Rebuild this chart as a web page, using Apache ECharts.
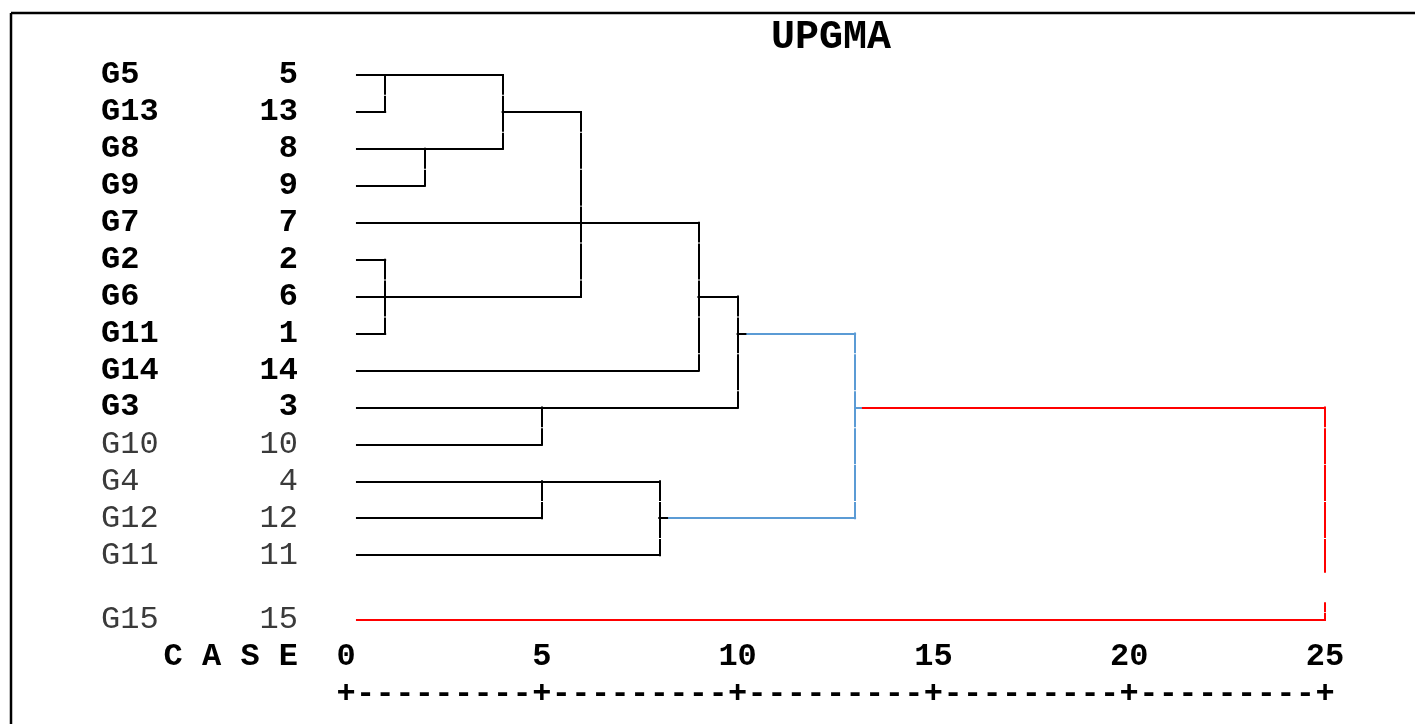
<!DOCTYPE html>
<html>
<head>
<meta charset="utf-8">
<script src="https://cdn.jsdelivr.net/npm/echarts@6/dist/echarts.min.js"></script>
<style>
html,body{margin:0;padding:0;background:#fff;}
#chart{width:1415px;height:724px;}
</style>
</head>
<body>
<div id="chart"></div>
<script>
// ---- data ----
const leafNames   = ['G5','G13','G8','G9','G7','G2','G6','G11','G14','G3','G10','G4','G12','G11','G15'];
const leafNumbers = ['5','13','8','9','7','2','6','1','14','3','10','4','12','11','15'];
const leafRows    = [0,1,2,3,4,5,6,7,8,9,10,11,12,13,14.75];
const leafBold    = [true,true,true,true,true,true,true,true,true,true,false,false,false,false,false];
const scaleTicks  = [0,5,10,15,20,25];
const caseLabel   = 'C A S E';
const titleText   = 'UPGMA';

// horizontal branches: [fromDistance, toDistance, row]
const blackH = [
  [0.28,4,0],[0.28,1,1],[4,6,1],[0.28,4,2],[0.28,2,3],[0.28,9,4],
  [0.28,1,5],[0.28,6,6],[9,10,6],[0.28,1,7],[10,10.25,7],[0.28,9,8],
  [0.28,10,9],[0.28,5,10],[0.28,8,11],[0.28,5,12],[8,8.25,12],[0.28,8,13]
];
// vertical joins: [distance, fromRow, toRow]
const blackV = [[1,0,1],[2,2,3],[4,0,2],[1,5,7],[6,1,6],[9,4,8],[10,6,9],[5,9,10],[5,11,12],[8,11,13]];
const blueH  = [[10.25,13,7],[8.25,13,12],[13,13.2,9]];
const blueV  = [[13,7,12]];
const redH   = [[13.2,25,9],[0.28,25,14.75]];
const redV   = [[25,9,13.45],[25,14.3,14.75]];

// ---- build line pieces ----
const GAP = 0.04;
function hPieces(arr){ return arr.map(h => ({coords:[[h[0],h[2]],[h[1],h[2]]]})); }
function vPieces(arr){
  const out = [];
  arr.forEach(v => {
    let start = v[1];
    for (let r = Math.floor(v[1]); r < v[2]; r++) {
      const g = r + 0.55;
      if (g > v[1] && g < v[2]) {
        out.push({coords:[[v[0],start],[v[0],g-GAP]]});
        start = g + GAP;
      }
    }
    out.push({coords:[[v[0],start],[v[0],v[2]]]});
  });
  return out;
}
function linesSeries(data, color){
  return {
    type:'lines', coordinateSystem:'cartesian2d', xAxisIndex:0, yAxisIndex:0,
    polyline:false, silent:true, animation:false,
    lineStyle:{color:color, width:2, opacity:1, cap:'square'},
    data:data
  };
}

const FONT = 'Liberation Mono';
const chart = echarts.init(document.getElementById('chart'));
chart.setOption({
  animation:false,
  backgroundColor:'#fff',
  title:{
    text:titleText, left:766, top:13,
    textStyle:{fontFamily:FONT, fontWeight:'bold', fontSize:40, color:'#000'}
  },
  grid:{left:346, right:90, top:75, bottom:95, containLabel:false, outerBoundsMode:'none'},
  xAxis:[
    {
      type:'value', min:0, max:25, interval:5, position:'bottom',
      axisLine:{show:false, onZero:false}, axisTick:{show:false}, splitLine:{show:false},
      axisLabel:{
        fontFamily:FONT, fontWeight:'bold', fontSize:32, color:'#000',
        margin:28, verticalAlign:'middle', showMinLabel:true, showMaxLabel:true
      }
    },
    {
      type:'value', min:0, max:25, interval:0.5, position:'bottom',
      axisLine:{show:false, onZero:false}, axisTick:{show:false}, splitLine:{show:false},
      axisLabel:{
        fontFamily:FONT, fontWeight:'bold', fontSize:32, color:'#000',
        margin:65, verticalAlign:'middle', showMinLabel:true, showMaxLabel:true,
        formatter:v => (Math.abs(v % 5) < 1e-6 ? '+' : '-')
      }
    }
  ],
  yAxis:[
    {
      type:'value', inverse:true, min:0, max:15, position:'left',
      axisLine:{show:false, onZero:false}, axisTick:{show:false}, splitLine:{show:false},
      axisLabel:{
        customValues:leafRows, align:'left', margin:245,
        formatter:v => { const i = leafRows.indexOf(v); return '{' + (leafBold[i]?'b':'n') + '|' + leafNames[i] + '}'; },
        rich:{
          b:{fontFamily:FONT, fontWeight:'bold', fontSize:32, color:'#000'},
          n:{fontFamily:FONT, fontWeight:'normal', fontSize:32, color:'#3a3a3a'}
        }
      }
    },
    {
      type:'value', inverse:true, min:0, max:15, position:'left',
      axisLine:{show:false, onZero:false}, axisTick:{show:false}, splitLine:{show:false},
      axisLabel:{
        customValues:leafRows, align:'right', margin:48,
        formatter:v => { const i = leafRows.indexOf(v); return '{' + (leafBold[i]?'b':'n') + '|' + leafNumbers[i] + '}'; },
        rich:{
          b:{fontFamily:FONT, fontWeight:'bold', fontSize:32, color:'#000'},
          n:{fontFamily:FONT, fontWeight:'normal', fontSize:32, color:'#3a3a3a'}
        }
      }
    }
  ],
  graphic:[
    {type:'line', shape:{x1:11, y1:13, x2:1415, y2:13}, style:{stroke:'#000', lineWidth:2.5}, silent:true},
    {type:'line', shape:{x1:11, y1:13, x2:11, y2:724}, style:{stroke:'#000', lineWidth:2.5}, silent:true},
    {type:'text', x:298, y:657, silent:true,
      style:{text:caseLabel, align:'right', verticalAlign:'middle',
        font:'bold 32px "Liberation Mono"', fill:'#000'}}
  ],
  series:[
    linesSeries(hPieces(blackH).concat(vPieces(blackV)), '#000'),
    linesSeries(hPieces(blueH).concat(vPieces(blueV)), '#5b9bd5'),
    linesSeries(hPieces(redH).concat(vPieces(redV)), '#ff0000')
  ]
});
</script>
</body>
</html>
